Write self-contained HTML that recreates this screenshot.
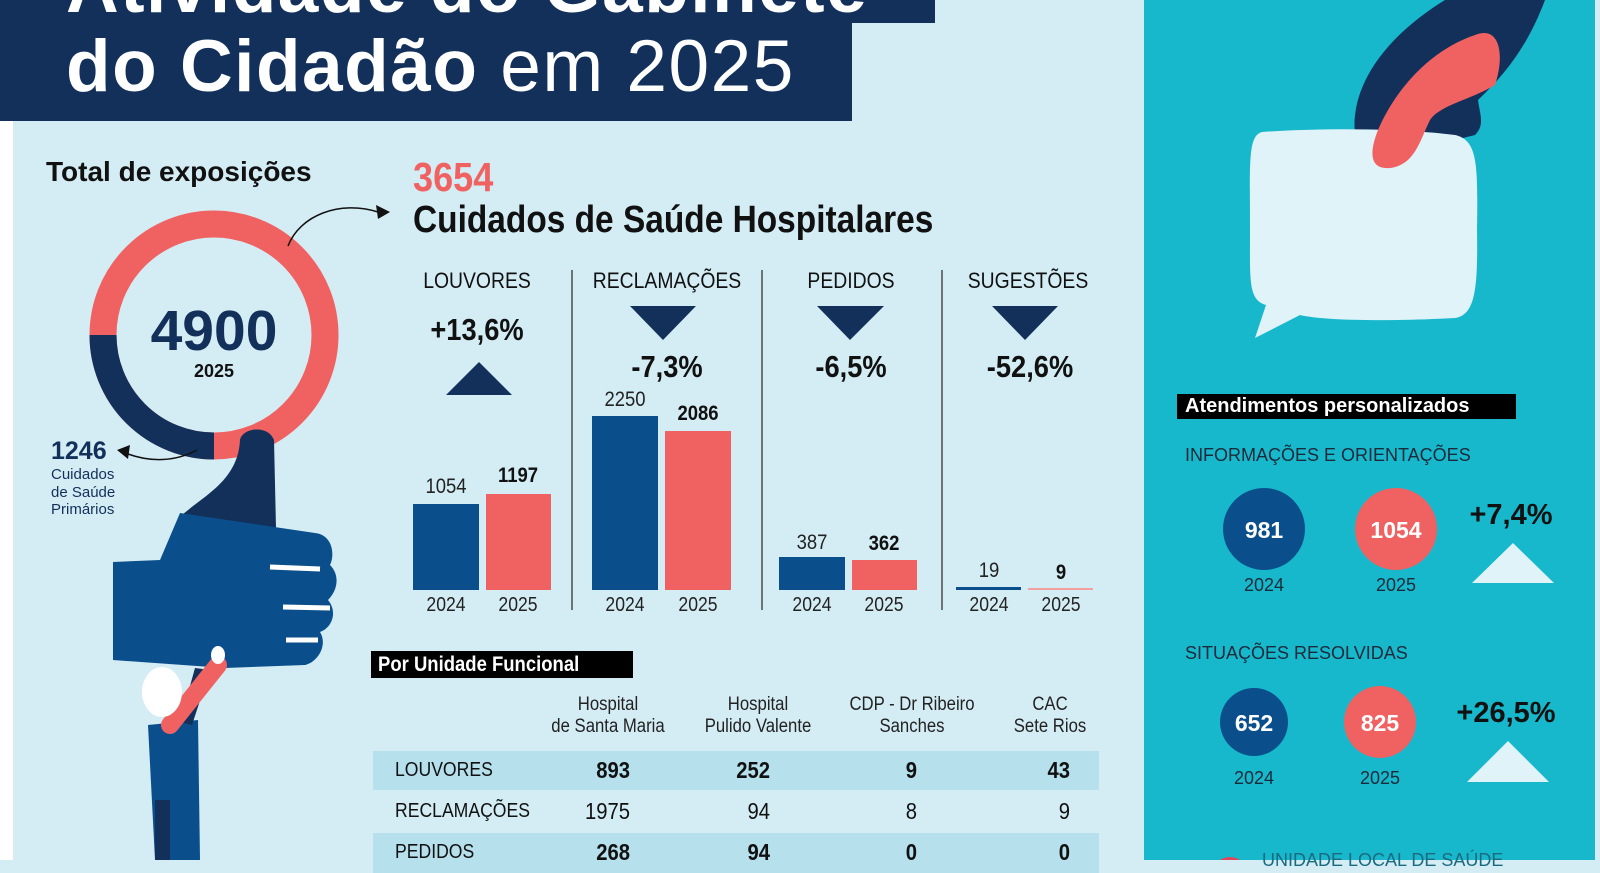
<!DOCTYPE html>
<html><head><meta charset="utf-8"><style>
*{margin:0;padding:0;box-sizing:border-box}
body{width:1600px;height:860px;overflow:hidden;background:#d4edf5;position:relative;font-family:"Liberation Sans",sans-serif}
.a{position:absolute;white-space:nowrap}
.n{font-family:"Liberation Sans Narrow","Liberation Sans",sans-serif;transform:scaleX(.88);transform-origin:left center}
.c{transform:translateX(-50%);text-align:center;transform-origin:center}
.n.c{transform:translateX(-50%) scaleX(.88)}
.r{transform-origin:right center}
</style></head><body>
<div class="a" style="left:0;top:0;width:13px;height:860px;background:#fff"></div>
<div class="a" style="left:0;top:0;width:935px;height:23px;background:#12305a"></div>
<div class="a" style="left:0;top:22px;width:852px;height:99px;background:#12305a"></div>
<div class="a" style="left:66px;top:-54px;font-size:73px;font-weight:bold;color:#fff;letter-spacing:1.5px">Atividade do Gabinete</div>
<div class="a" style="left:66px;top:25px;font-size:73px;font-weight:bold;color:#fff;letter-spacing:1.5px">do Cidadão <span style="font-weight:normal">em 2025</span></div>
<div class="a" style="left:1144px;top:0;width:451px;height:860px;background:#17b8cc"></div>

<svg class="a" style="left:0;top:0" width="1600" height="860">
<circle cx="214" cy="335" r="111" fill="none" stroke="#f06262" stroke-width="27"/>
<path d="M103 335 A111 111 0 0 0 214 446" fill="none" stroke="#12305a" stroke-width="27"/>
<path d="M288 246 C300 215 340 200 378 212" fill="none" stroke="#111" stroke-width="1.5"/>
<polygon points="390,212 376,205 378,219" fill="#111"/>
<path d="M197 450 C175 462 150 462 128 454" fill="none" stroke="#111" stroke-width="1.5"/>
<polygon points="117,450 130,445 128,459" fill="#111"/>
<path d="M240 440 C242 428 268 424 274 440 L276 528 L182 515 C205 495 238 480 240 440 Z" fill="#12305a"/>
<path d="M113 562 L160 560 L180 513 L315 533 C333 535 335 555 330 565 C340 575 338 590 328 600 C338 612 332 628 320 632 C328 645 318 662 305 665 L225 668 L113 660 Z" fill="#0a4f8c"/>
<path d="M270 567 L320 569 M283 607 L330 608 M286 640 L318 640" stroke="#fff" stroke-width="5"/>
<path d="M148 725 L198 720 L200 860 L155 860 Z" fill="#0a4f8c"/>
<path d="M155 800 L170 800 L170 860 L155 860 Z" fill="#12305a"/>
<path d="M195 668 L210 670 L192 725 L180 722 Z" fill="#12305a"/>
<path d="M218 665 L170 725" stroke="#f06262" stroke-width="18" stroke-linecap="round"/>
<ellipse cx="162" cy="692" rx="20" ry="25" fill="#fff"/>
<ellipse cx="218" cy="655" rx="7" ry="9" fill="#fff"/>
<polygon points="446,395 512,395 479,362" fill="#12305a"/>
<polygon points="630,306 696,306 663,340" fill="#12305a"/>
<polygon points="817,306 884,306 850,340" fill="#12305a"/>
<polygon points="992,306 1058,306 1025,340" fill="#12305a"/>
<line x1="572" y1="270" x2="572" y2="610" stroke="#333" stroke-width="1.3"/>
<line x1="762" y1="270" x2="762" y2="610" stroke="#333" stroke-width="1.3"/>
<line x1="942" y1="270" x2="942" y2="610" stroke="#333" stroke-width="1.3"/>
<rect x="413" y="504" width="66" height="86" fill="#0a4f8c"/>
<rect x="486" y="494" width="65" height="96" fill="#f06262"/>
<rect x="592" y="416" width="66" height="174" fill="#0a4f8c"/>
<rect x="665" y="431" width="66" height="159" fill="#f06262"/>
<rect x="779" y="557" width="66" height="33" fill="#0a4f8c"/>
<rect x="852" y="560" width="65" height="30" fill="#f06262"/>
<rect x="956" y="587" width="65" height="3" fill="#0a4f8c"/>
<rect x="1028" y="588" width="65" height="2" fill="#f2a0a0"/>
<path d="M1445 0 L1545 0 C1530 40 1510 70 1478 100 C1480 115 1485 125 1475 135 L1455 140 L1458 152 L1430 160 L1355 135 C1350 90 1380 40 1445 0 Z" fill="#12305a"/>
<path d="M1262 132 C1320 128 1400 128 1455 135 C1478 140 1478 165 1477 230 C1478 290 1475 315 1455 318 C1380 322 1320 320 1300 315 L1255 338 L1266 305 C1248 300 1250 280 1250 230 C1250 160 1248 136 1262 132 Z" fill="#e0f3f9"/>
<path d="M1475 35 C1500 25 1505 55 1495 85 C1470 100 1440 105 1430 120 C1420 140 1415 165 1390 168 C1368 170 1370 150 1378 130 C1395 90 1430 50 1475 35 Z" fill="#f06262"/>
<circle cx="1264" cy="529" r="41" fill="#0a4f8c"/>
<circle cx="1396" cy="529" r="41" fill="#f06262"/>
<polygon points="1472,583 1554,583 1513,543" fill="#dff3f8"/>
<circle cx="1254" cy="722" r="34" fill="#0a4f8c"/>
<circle cx="1380" cy="722" r="36" fill="#f06262"/>
<polygon points="1467,782 1549,782 1508,741" fill="#dff3f8"/>
<circle cx="1230" cy="875" r="18" fill="#e0455a"/>
</svg>

<div class="a" style="left:46px;top:156px;font-size:28px;font-weight:bold;color:#111">Total de exposições</div>
<div class="a c" style="left:214px;top:298px;font-size:57px;font-weight:bold;color:#12305a">4900</div>
<div class="a c" style="left:214px;top:361px;font-size:18px;font-weight:bold;color:#111">2025</div>
<div class="a" style="left:51px;top:437px;font-size:25px;font-weight:bold;color:#12305a">1246</div>
<div class="a" style="left:51px;top:466px;font-size:15px;line-height:17.5px;color:#12305a">Cuidados<br>de Saúde<br>Primários</div>

<div class="a n" style="left:413px;top:154px;font-size:41px;font-weight:bold;color:#f06262">3654</div>
<div class="a n" style="left:413px;top:199px;font-size:38px;font-weight:bold;color:#111">Cuidados de Saúde Hospitalares</div>

<div class="a n c" style="left:477px;top:268px;font-size:22px;color:#111">LOUVORES</div>
<div class="a n c" style="left:667px;top:268px;font-size:22px;color:#111">RECLAMAÇÕES</div>
<div class="a n c" style="left:851px;top:268px;font-size:22px;color:#111">PEDIDOS</div>
<div class="a n c" style="left:1028px;top:268px;font-size:22px;color:#111">SUGESTÕES</div>
<div class="a n c" style="left:477px;top:312px;font-size:31px;font-weight:bold;color:#111">+13,6%</div>
<div class="a n c" style="left:667px;top:349px;font-size:31px;font-weight:bold;color:#111">-7,3%</div>
<div class="a n c" style="left:851px;top:349px;font-size:31px;font-weight:bold;color:#111">-6,5%</div>
<div class="a n c" style="left:1030px;top:349px;font-size:31px;font-weight:bold;color:#111">-52,6%</div>

<div class="a n c" style="left:446px;top:475px;font-size:21px;color:#222">1054</div>
<div class="a n c" style="left:518px;top:464px;font-size:21px;font-weight:bold;color:#111">1197</div>
<div class="a n c" style="left:625px;top:388px;font-size:21px;color:#222">2250</div>
<div class="a n c" style="left:698px;top:402px;font-size:21px;font-weight:bold;color:#111">2086</div>
<div class="a n c" style="left:812px;top:531px;font-size:21px;color:#222">387</div>
<div class="a n c" style="left:884px;top:532px;font-size:21px;font-weight:bold;color:#111">362</div>
<div class="a n c" style="left:989px;top:559px;font-size:21px;color:#222">19</div>
<div class="a n c" style="left:1061px;top:561px;font-size:21px;font-weight:bold;color:#111">9</div>

<div class="a n c" style="left:446px;top:594px;font-size:20px;color:#222">2024</div>
<div class="a n c" style="left:518px;top:594px;font-size:20px;color:#222">2025</div>
<div class="a n c" style="left:625px;top:594px;font-size:20px;color:#222">2024</div>
<div class="a n c" style="left:698px;top:594px;font-size:20px;color:#222">2025</div>
<div class="a n c" style="left:812px;top:594px;font-size:20px;color:#222">2024</div>
<div class="a n c" style="left:884px;top:594px;font-size:20px;color:#222">2025</div>
<div class="a n c" style="left:989px;top:594px;font-size:20px;color:#222">2024</div>
<div class="a n c" style="left:1061px;top:594px;font-size:20px;color:#222">2025</div>

<div class="a" style="left:371px;top:651px;width:262px;height:27px;background:#000"></div>
<div class="a n" style="left:378px;top:653px;color:#fff;font-size:21px;font-weight:bold">Por Unidade Funcional</div>
<div class="a n c" style="left:608px;top:694px;font-size:19px;line-height:22px;color:#222">Hospital<br>de Santa Maria</div>
<div class="a n c" style="left:758px;top:694px;font-size:19px;line-height:22px;color:#222">Hospital<br>Pulido Valente</div>
<div class="a n c" style="left:912px;top:694px;font-size:19px;line-height:22px;color:#222">CDP - Dr Ribeiro<br>Sanches</div>
<div class="a n c" style="left:1050px;top:694px;font-size:19px;line-height:22px;color:#222">CAC<br>Sete Rios</div>
<div class="a" style="left:373px;top:751px;width:726px;height:39px;background:#b5e0ec"></div>
<div class="a" style="left:373px;top:833px;width:726px;height:40px;background:#b5e0ec"></div>
<div class="a n" style="left:395px;top:759px;font-size:20px;color:#111">LOUVORES</div>
<div class="a n" style="left:395px;top:800px;font-size:20px;color:#111">RECLAMAÇÕES</div>
<div class="a n" style="left:395px;top:841px;font-size:20px;color:#111">PEDIDOS</div>
<div class="a n r" style="left:560px;top:757px;width:70px;text-align:right;font-size:23px;font-weight:bold;color:#111">893</div>
<div class="a n r" style="left:700px;top:757px;width:70px;text-align:right;font-size:23px;font-weight:bold;color:#111">252</div>
<div class="a n r" style="left:847px;top:757px;width:70px;text-align:right;font-size:23px;font-weight:bold;color:#111">9</div>
<div class="a n r" style="left:1000px;top:757px;width:70px;text-align:right;font-size:23px;font-weight:bold;color:#111">43</div>
<div class="a n r" style="left:560px;top:798px;width:70px;text-align:right;font-size:23px;color:#111">1975</div>
<div class="a n r" style="left:700px;top:798px;width:70px;text-align:right;font-size:23px;color:#111">94</div>
<div class="a n r" style="left:847px;top:798px;width:70px;text-align:right;font-size:23px;color:#111">8</div>
<div class="a n r" style="left:1000px;top:798px;width:70px;text-align:right;font-size:23px;color:#111">9</div>
<div class="a n r" style="left:560px;top:839px;width:70px;text-align:right;font-size:23px;font-weight:bold;color:#111">268</div>
<div class="a n r" style="left:700px;top:839px;width:70px;text-align:right;font-size:23px;font-weight:bold;color:#111">94</div>
<div class="a n r" style="left:847px;top:839px;width:70px;text-align:right;font-size:23px;font-weight:bold;color:#111">0</div>
<div class="a n r" style="left:1000px;top:839px;width:70px;text-align:right;font-size:23px;font-weight:bold;color:#111">0</div>

<div class="a" style="left:1177px;top:394px;width:339px;height:25px;background:#000;color:#fff;font-size:20px;font-weight:bold;padding:1px 0 0 8px">Atendimentos personalizados</div>
<div class="a" style="left:1185px;top:445px;font-size:18px;color:#1a2a3a">INFORMAÇÕES E ORIENTAÇÕES</div>
<div class="a c" style="left:1264px;top:517px;font-size:23px;font-weight:bold;color:#fff">981</div>
<div class="a c" style="left:1396px;top:517px;font-size:23px;font-weight:bold;color:#fff">1054</div>
<div class="a c" style="left:1264px;top:575px;font-size:18px;color:#1a2a3a">2024</div>
<div class="a c" style="left:1396px;top:575px;font-size:18px;color:#1a2a3a">2025</div>
<div class="a c" style="left:1511px;top:499px;font-size:29px;font-weight:bold;color:#111">+7,4%</div>
<div class="a" style="left:1185px;top:643px;font-size:18px;color:#1a2a3a">SITUAÇÕES RESOLVIDAS</div>
<div class="a c" style="left:1254px;top:710px;font-size:23px;font-weight:bold;color:#fff">652</div>
<div class="a c" style="left:1380px;top:710px;font-size:23px;font-weight:bold;color:#fff">825</div>
<div class="a c" style="left:1254px;top:768px;font-size:18px;color:#1a2a3a">2024</div>
<div class="a c" style="left:1380px;top:768px;font-size:18px;color:#1a2a3a">2025</div>
<div class="a c" style="left:1506px;top:697px;font-size:29px;font-weight:bold;color:#111">+26,5%</div>
<div class="a" style="left:1262px;top:850px;font-size:18px;color:#1a6a80">UNIDADE LOCAL DE SAÚDE</div>
</body></html>
